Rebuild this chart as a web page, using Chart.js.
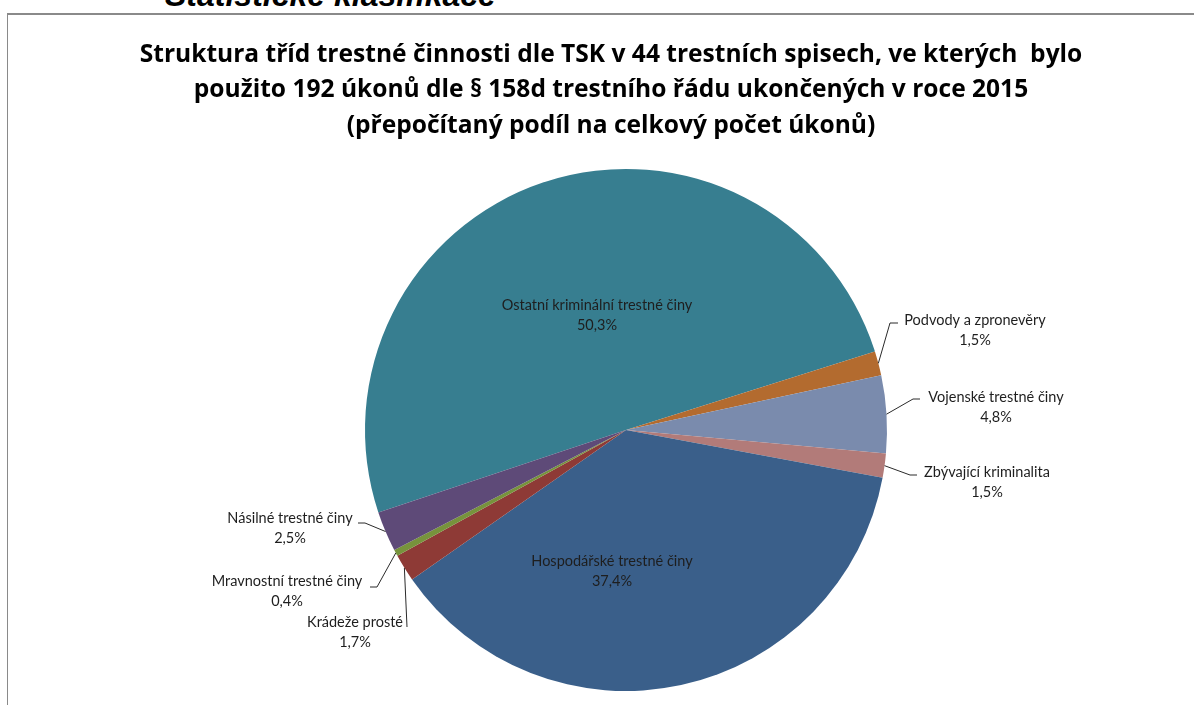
<!DOCTYPE html>
<html lang="cs">
<head>
<meta charset="utf-8">
<title>Struktura tříd trestné činnosti dle TSK</title>
<script src="https://cdn.jsdelivr.net/npm/chart.js@4.4.1/dist/chart.umd.min.js"></script>
<style>
    html, body { margin: 0; padding: 0; background: #fff; overflow: hidden; width: 1194px; height: 705px; }
    .caption { position: absolute; left: 165px; top: -21px; font: italic bold 32px "Liberation Sans", Arial, sans-serif; line-height: 32px; color: #000; white-space: nowrap; }
    .frame { position: absolute; left: 7px; top: 13px; width: 1300px; height: 800px; border-left: 1px solid #8a8a8a; border-top: 2px solid #8a8a8a; }
    #wrap { position: absolute; left: 0; top: 0; width: 1194px; height: 705px; }
</style>
</head>
<body>
<div class="caption">Statistické klasifikace</div>
<div class="frame"></div>
<div id="wrap"><canvas id="pieChart" width="1194" height="705"></canvas></div>
<script>
// Data
const categories = [
    'Ostatní kriminální trestné činy',
    'Podvody a zpronevěry',
    'Vojenské trestné činy',
    'Zbývající kriminalita',
    'Hospodářské trestné činy',
    'Krádeže prosté',
    'Mravnostní trestné činy',
    'Násilné trestné činy'
];
const shares = [50.3, 1.5, 4.8, 1.5, 37.4, 1.7, 0.4, 2.5];
const sliceColors = ['#377e90', '#b36b2f', '#7a8bad', '#b27b79', '#3a5f8a', '#8e3a36', '#77933c', '#5e4a78'];

const titleLines = [
    'Struktura tříd trestné činnosti dle TSK v 44 trestních spisech, ve kterých  bylo',
    'použito 192 úkonů dle § 158d trestního řádu ukončených v roce 2015',
    '(přepočítaný podíl na celkový počet úkonů)'
];

// label placement relative to pie centre (px)
const labelLayout = [
    { x: -29, y: -125 },
    { x: 349, y: -110, elbow: [264, -107], end: [272, -107] },
    { x: 370, y: -33, elbow: [287, -31], end: [294, -31] },
    { x: 361, y: 42, elbow: [284, 45], end: [291, 45] },
    { x: -14, y: 131 },
    { x: -271, y: 192, elbow: [-219, 197], end: [-219, 197] },
    { x: -339, y: 151, elbow: [-249, 157], end: [-256, 157] },
    { x: -336, y: 88, elbow: [-261, 93], end: [-268, 93] }
];

function formatShare(v) {
    return v.toFixed(1).replace('.', ',') + '%';
}

// Title drawn by hand so it is not squeezed into the pie's box
const chartTitle = {
    id: 'chartTitle',
    afterDraw(chart) {
        const ctx = chart.ctx;
        ctx.save();
        // fit first line to the width it has in the original
        ctx.font = 'bold 24px "Open Sans"';
        const size = 24 * 943 / ctx.measureText(titleLines[0]).width;
        ctx.font = 'bold ' + size.toFixed(2) + 'px "Open Sans"';
        ctx.fillStyle = '#000';
        ctx.textAlign = 'center';
        ctx.textBaseline = 'alphabetic';
        const baselines = [62, 97, 133];
        titleLines.forEach(function(line, i) {
            ctx.fillText(line, 611, baselines[i]);
        });
        ctx.restore();
    }
};

const sliceLabels = {
    id: 'sliceLabels',
    afterDatasetsDraw(chart) {
        const ctx = chart.ctx;
        const arcs = chart.getDatasetMeta(0).data;
        ctx.save();
        ctx.font = '14.5px Lato';
        ctx.fillStyle = '#1e1e1e';
        ctx.strokeStyle = '#2a2a2a';
        ctx.lineWidth = 1;
        ctx.textAlign = 'center';
        ctx.textBaseline = 'middle';
        arcs.forEach(function(arc, i) {
            const pos = labelLayout[i];
            const cx = arc.x, cy = arc.y;
            if (pos.elbow) {
                const mid = (arc.startAngle + arc.endAngle) / 2;
                ctx.beginPath();
                ctx.moveTo(cx + Math.cos(mid) * arc.outerRadius, cy + Math.sin(mid) * arc.outerRadius);
                ctx.lineTo(cx + pos.elbow[0], cy + pos.elbow[1]);
                ctx.lineTo(cx + pos.end[0], cy + pos.end[1]);
                ctx.stroke();
            }
            ctx.fillText(categories[i], cx + pos.x, cy + pos.y);
            ctx.fillText(formatShare(shares[i]), cx + pos.x, cy + pos.y + 20);
        });
        ctx.restore();
    }
};

new Chart(document.getElementById('pieChart'), {
    type: 'pie',
    data: {
        labels: categories,
        datasets: [{
            data: shares,
            backgroundColor: sliceColors,
            borderWidth: 0,
            hoverOffset: 0
        }]
    },
    options: {
        responsive: false,
        animation: false,
        events: [],
        rotation: -108.4,
        layout: {
            padding: { left: 365, right: 307, top: 169, bottom: 14 }
        },
        plugins: {
            legend: { display: false },
            tooltip: { enabled: false },
            title: { display: false }
        }
    },
    plugins: [sliceLabels, chartTitle]
});
</script>
</body>
</html>
